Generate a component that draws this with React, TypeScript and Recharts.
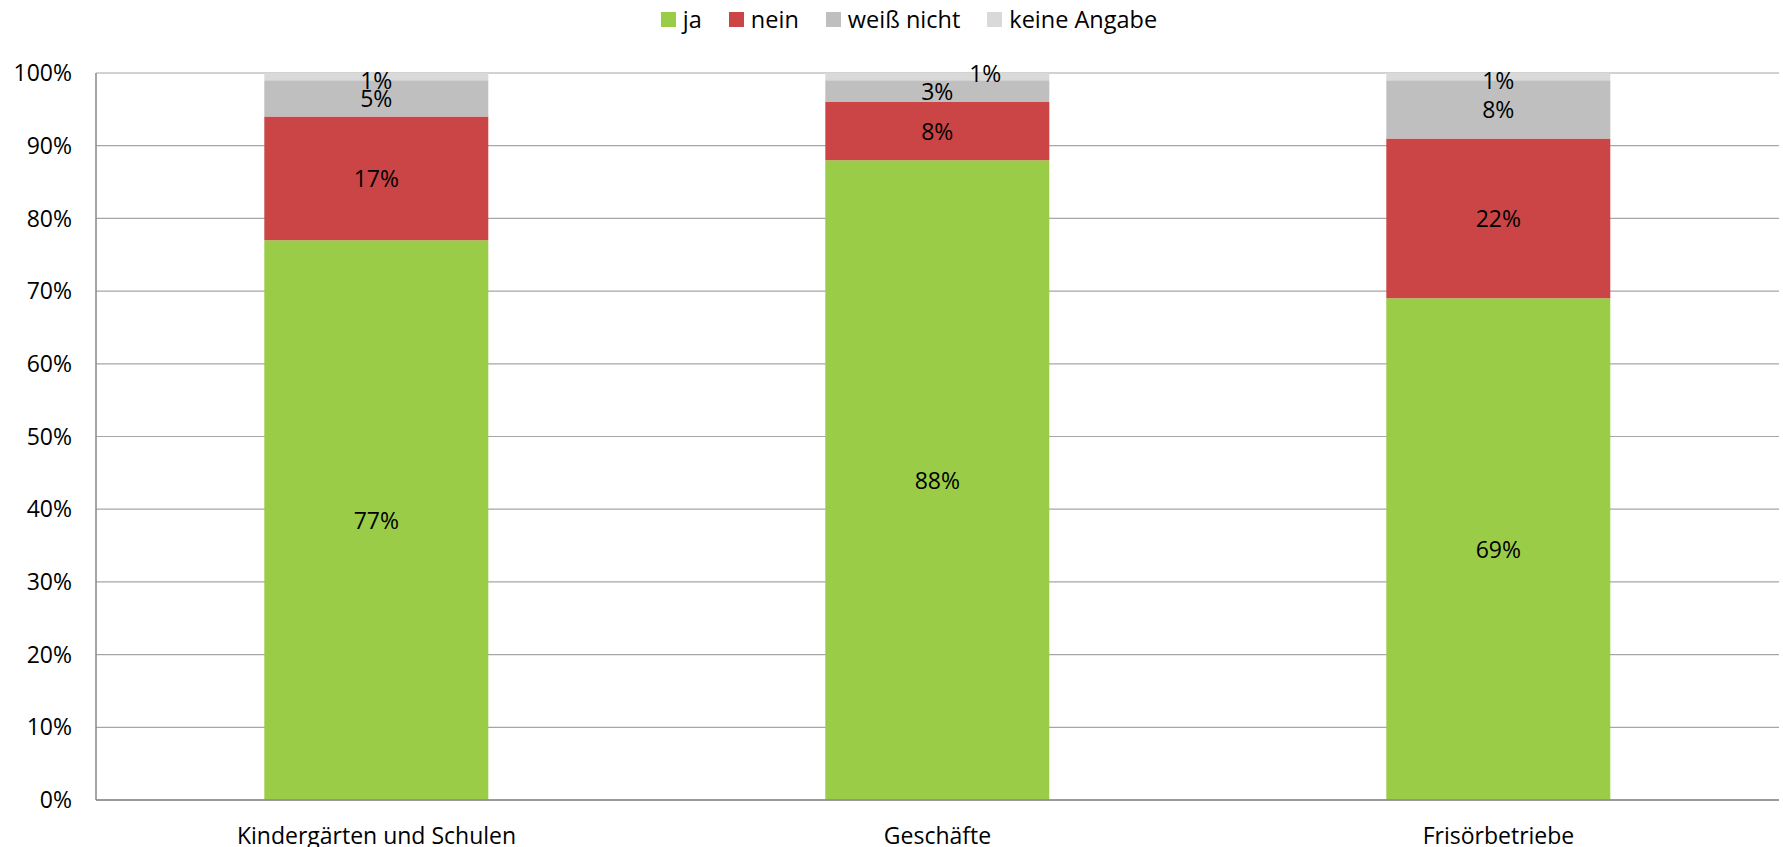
import { BarChart, Bar, XAxis, YAxis, CartesianGrid, Legend, LabelList } from "recharts";

const categories = ["Kindergärten und Schulen", "Geschäfte", "Frisörbetriebe"];
const ja = [77, 88, 69];
const nein = [17, 8, 22];
const weissNicht = [5, 3, 8];
const keineAngabe = [1, 1, 1];
const yTicks = [0, 10, 20, 30, 40, 50, 60, 70, 80, 90, 100];

const series = [
  { key: "ja", name: "ja", color: "#9BCC48" },
  { key: "nein", name: "nein", color: "#CB4446" },
  { key: "weissNicht", name: "weiß nicht", color: "#BFBFBF" },
  { key: "keineAngabe", name: "keine Angabe", color: "#D9D9D9" },
];

const chartData = categories.map((name, i) => ({
  name,
  ja: ja[i],
  nein: nein[i],
  weissNicht: weissNicht[i],
  keineAngabe: keineAngabe[i],
}));

const FONT = "'Open Sans', sans-serif";
const FONT_SIZE = 23;

// the thin top segment of "Geschäfte" has its label pushed aside
const topLabelNudge = [
  { dx: 0, dy: 3 },
  { dx: 48, dy: -4 },
  { dx: 0, dy: 3 },
];

function SegmentLabel(props: any) {
  const { x, y, width, height, value, index, nudge } = props;
  const n = nudge ? topLabelNudge[index] : { dx: 0, dy: 0 };
  return (
    <text
      x={x + width / 2 + n.dx}
      y={y + height / 2 + n.dy}
      textAnchor="middle"
      dominantBaseline="central"
      fontSize={FONT_SIZE}
      fontFamily={FONT}
      fill="#000"
    >
      {`${value}%`}
    </text>
  );
}

function LegendRow() {
  return (
    <div
      style={{
        height: 73,
        display: "flex",
        justifyContent: "center",
        paddingTop: 6,
        paddingLeft: 66,
        boxSizing: "border-box",
        fontFamily: FONT,
        fontSize: 23.5,
        color: "#000",
      }}
    >
      {series.map((s) => (
        <div key={s.key} style={{ display: "flex", alignItems: "center", height: 26, marginRight: 27 }}>
          <span style={{ width: 15, height: 15, background: s.color, marginRight: 7, display: "inline-block" }} />
          <span>{s.name}</span>
        </div>
      ))}
    </div>
  );
}

export default function App() {
  return (
    <div style={{ position: "absolute", left: 0, top: 0, background: "#fff" }}>
      <BarChart
        width={1783}
        height={847}
        data={chartData}
        barCategoryGap="30%"
        margin={{ top: 0, right: 4, bottom: 0, left: 0 }}
      >
        <Legend verticalAlign="top" align="center" content={() => <LegendRow />} />
        <CartesianGrid vertical={false} stroke="#A6A6A6" strokeWidth={1.2} />
        <XAxis
          dataKey="name"
          height={47}
          tickLine={false}
          axisLine={{ stroke: "#898989", strokeWidth: 1.5 }}
          tick={{ fill: "#000", fontSize: FONT_SIZE, fontFamily: FONT }}
          tickMargin={22}
        />
        <YAxis
          width={96}
          domain={[0, 100]}
          ticks={yTicks}
          interval={0}
          tickLine={false}
          tickSize={0}
          tickMargin={24}
          axisLine={{ stroke: "#898989", strokeWidth: 1.5 }}
          tick={{ fill: "#000", fontSize: FONT_SIZE, fontFamily: FONT }}
          tickFormatter={(v: number) => `${v}%`}
        />
        {series.map((s) => (
          <Bar
            key={s.key}
            dataKey={s.key}
            name={s.name}
            stackId="a"
            fill={s.color}
            isAnimationActive={false}
          >
            <LabelList
              dataKey={s.key}
              content={(p: any) => <SegmentLabel {...p} nudge={s.key === "keineAngabe"} />}
            />
          </Bar>
        ))}
      </BarChart>
    </div>
  );
}
